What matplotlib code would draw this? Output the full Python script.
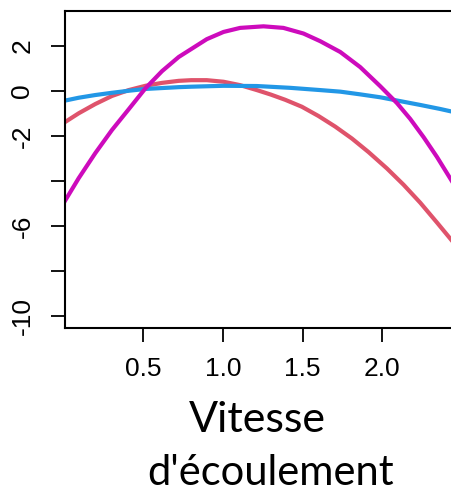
import matplotlib
matplotlib.use("Agg")
import matplotlib.pyplot as plt

# fitted response curves against flow velocity
x_mag = [0.006, 0.094, 0.198, 0.303, 0.408, 0.513, 0.617, 0.722, 0.80, 0.898, 1.003,
         1.107, 1.254, 1.379, 1.505, 1.61, 1.736, 1.861, 1.987, 2.092, 2.175, 2.259, 2.343, 2.44]
y_mag = [-4.91, -3.88, -2.77, -1.74, -0.82, 0.11, 0.87, 1.50, 1.85, 2.29, 2.61,
         2.79, 2.86, 2.79, 2.54, 2.20, 1.72, 1.05, 0.20, -0.55, -1.25, -2.06, -2.94, -4.05]

x_red = [0.006, 0.094, 0.198, 0.303, 0.408, 0.513, 0.617, 0.722, 0.80, 0.898, 1.003,
         1.107, 1.212, 1.30, 1.39, 1.495, 1.599, 1.704, 1.809, 1.913, 2.029, 2.133,
         2.238, 2.343, 2.44]
y_red = [-1.40, -1.00, -0.59, -0.23, 0.03, 0.22, 0.35, 0.44, 0.47, 0.47, 0.40,
         0.25, 0.03, -0.17, -0.40, -0.71, -1.12, -1.59, -2.12, -2.72, -3.45, -4.17,
         -4.97, -5.85, -6.68]

x_blue = [0.006, 0.094, 0.198, 0.303, 0.408, 0.513, 0.617, 0.722, 0.80, 1.003,
          1.212, 1.421, 1.61, 1.736, 1.861, 1.987, 2.112, 2.238, 2.364, 2.44]
y_blue = [-0.44, -0.31, -0.19, -0.09, 0.00, 0.08, 0.12, 0.16, 0.18, 0.22,
          0.21, 0.13, 0.03, -0.04, -0.16, -0.29, -0.46, -0.63, -0.81, -0.93]

xticks = [0.5, 1.0, 1.5, 2.0]
xtick_labels = ["0.5", "1.0", "1.5", "2.0"]
yticks = [2, 0, -2, -4, -6, -8, -10]
ytick_labels = ["2", "0", "-2", "", "-6", "", "-10"]

plt.rcParams["font.family"] = ["Liberation Sans", "DejaVu Sans"]

W, H = 452, 492
fig = plt.figure(figsize=(W / 100, H / 100), dpi=100)
ax = fig.add_axes([65 / W, 164 / H, 397 / W, 317 / H])

ax.plot(x_red, y_red, color="#DF536B", lw=3.0)
ax.plot(x_blue, y_blue, color="#2297E6", lw=3.0)
ax.plot(x_mag, y_mag, color="#CD0BBC", lw=3.0)

ax.set_xlim(0.008, 2.5)
ax.set_ylim(-10.53, 3.54)

ax.set_xticks(xticks)
ax.set_xticklabels(xtick_labels, fontsize=19)
ax.set_yticks(yticks)
ax.set_yticklabels(ytick_labels, fontsize=19, rotation=90, va="center")
ax.tick_params(length=10, width=1.3, direction="out", pad=11)
ax.tick_params(axis="y", pad=12)
for s in ax.spines.values():
    s.set_linewidth(1.5)

fig.text(257 / W, 1 - 432 / H, "Vitesse", ha="center", va="baseline",
         fontsize=31, family=["Lato", "DejaVu Sans"])
fig.text(271 / W, 1 - 485 / H, "d'écoulement", ha="center", va="baseline",
         fontsize=30, family=["Lato", "DejaVu Sans"])

fig.savefig("out.png", dpi=100)
